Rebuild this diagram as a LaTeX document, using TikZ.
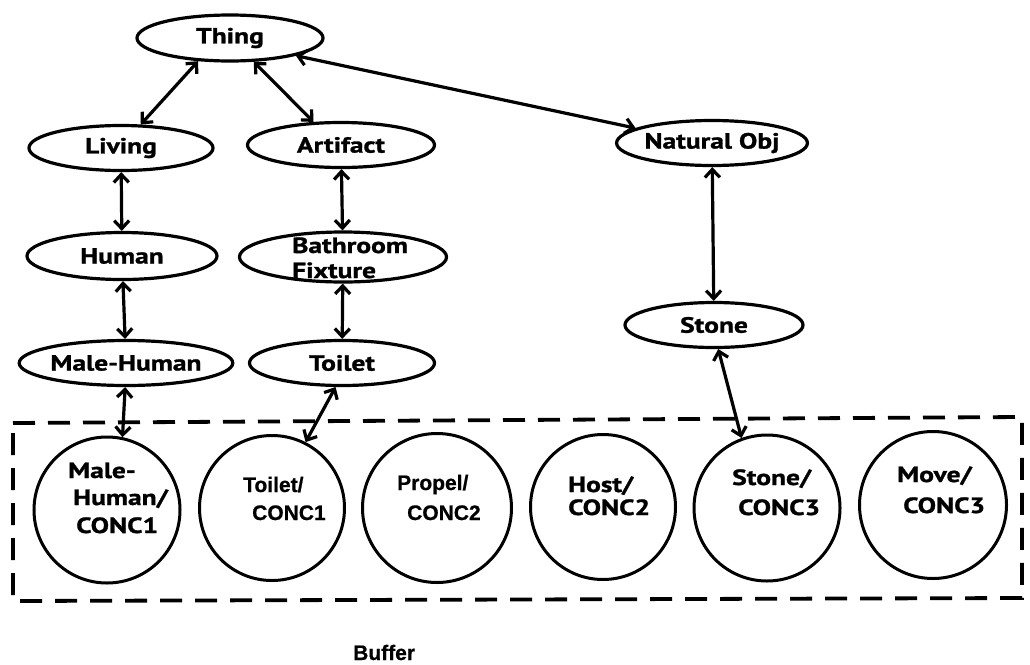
\documentclass[tikz,border=0pt]{standalone}
\usepackage{fontspec}
\setmainfont[FakeStretch=1.25,FakeBold=1.2]{PT Sans}
\newfontfamily\arialf[FakeBold=0.8]{Liberation Sans}
\usetikzlibrary{shapes.geometric,arrows.meta}
\begin{document}
\begin{tikzpicture}[x=1pt,y=-1pt,
  concept/.style={draw, ellipse, line width=3.2pt, minimum width=#1, minimum height=46pt,
     inner sep=0pt, font=\fontsize{22}{24}\selectfont\bfseries},
  concept/.default=185pt,
  buf/.style={draw, circle, line width=3pt, minimum size=#1, inner sep=0pt},
  buf/.default=146pt,
  lab/.style={anchor=base west, inner sep=0pt, font=\fontsize{22}{24}\selectfont\bfseries},
  alab/.style={anchor=base west, inner sep=0pt, font=\arialf\bfseries\fontsize{21}{23}\selectfont},
  link/.style={line width=3.2pt, {Straight Barb[length=8pt,width=15pt]}-{Straight Barb[length=8pt,width=15pt]}},
  boxline/.style={line width=3.8pt, dash pattern=on 22pt off 13pt}
]
\useasboundingbox (0,0) rectangle (1030,664);

% ontology nodes
\node[concept=186pt] (thing) at (230,38) {Thing};
\node[concept=184pt, minimum height=45pt] (living) at (121,148) {Living};
\node[concept=187pt, minimum height=45pt] (artifact) at (341,145) {Artifact};
\node[concept=179pt, minimum height=45pt] (natural) at (712,143) {Natural Obj};
\node[concept=190pt, minimum height=47pt] (human) at (122,256) {Human};
\node[concept=207pt, minimum height=50pt] (bath) at (343,257) {};
\node[lab] (bath1) at (292,253) {Bathroom};
\node[lab] (bath2) at (292,278) {Fixture};
\node[concept=187pt, minimum height=45pt] (male) at (126,363) {Male-Human};
\node[concept=185pt, minimum height=45pt] (toilet) at (342,363) {Toilet};
\node[concept=178pt, minimum height=45pt] (stone) at (714,325) {Stone};

% buffer box
\draw[boxline] (13,423) -- (1022,417) -- (1022,598) -- (13,601) -- cycle;

% buffer concepts
\node[buf=146pt] (c1) at (107,510) {};
\node[buf=145pt] (c2) at (272,508) {};
\node[buf=149pt] (c3) at (437,508) {};
\node[buf=145pt] (c4) at (603,507) {};
\node[buf=146pt] (c5) at (767,508) {};
\node[buf=147pt] (c6) at (933,505) {};

\node[lab] (c1a) at (68,478) {Male-};
\node[lab] (c1b) at (73,505) {Human/};
\node[lab] (c1c) at (76,533) {CONC1};
\node[alab] (c2a) at (243,492) {Toilet/};
\node[alab] (c2b) at (252,520) {CONC1};
\node[alab] (c3a) at (397,490) {Propel/};
\node[alab] (c3b) at (407,520) {CONC2};
\node[lab] (c4a) at (568,492) {Host/};
\node[lab] (c4b) at (568,515) {CONC2};
\node[lab] (c5a) at (732,485) {Stone/};
\node[lab] (c5b) at (738,515) {CONC3};
\node[lab] (c6a) at (897,482) {Move/};
\node[lab] (c6b) at (903,513) {CONC3};

\node[alab] (buffer) at (353,660) {Buffer};

% links
\draw[link] (thing.216) -- (living.50);
\draw[link] (thing.-45) -- (artifact.140);
\draw[link] (thing.-15) -- (natural.169);
\draw[link] (living) -- (human);
\draw[link] (artifact) -- (bath);
\draw[link] (human) -- (male);
\draw[link] (bath) -- (toilet);
\draw[link] (natural) -- (stone);
\draw[link] (male.-92) -- (c1.78);
\draw[link] (toilet.-105) -- (c2.63);
\draw[link] (stone.-80) -- (c5.110);
\end{tikzpicture}
\end{document}
